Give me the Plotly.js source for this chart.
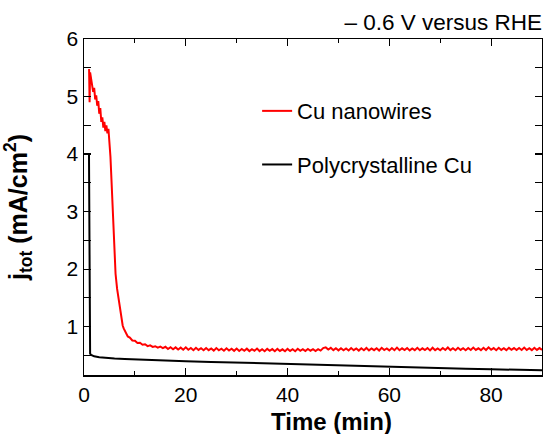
<!DOCTYPE html>
<html>
<head>
<meta charset="utf-8">
<script src="https://cdn.plot.ly/plotly-3.0.1.min.js"></script>
<style>html,body{margin:0;padding:0;background:#fff;}#chart{width:543px;height:434px;}</style>
</head>
<body>
<div id="chart"></div>
<script>
// Cu nanowires (red)
var nanoTime = [1.0,1.1,1.2,1.4,1.6,1.8,2.0,2.2,2.4,2.6,2.8,3.0,3.2,3.4,3.6,3.8,4.0,4.2,4.4,4.6,4.8,5.0,5.2,5.4,5.6,5.8,6.0,6.2,6.5,6.8,7.0,7.2,7.4,7.6,7.8,8.0,8.3,8.6,9.0,9.5,10.0,10.5,11.0,11.5,12.0,12.5,13.0,13.5,14.0,14.5,15.0,15.5,
16.0,16.5,17.0,17.5,18.0,18.5,19.0,19.5,20.0,20.5,21.0,21.5,22.0,22.5,23.0,23.5,24.0,24.5,25.0,25.5,26.0,26.5,27.0,27.5,28.0,28.5,29.0,29.5,
30.0,30.5,31.0,31.5,32.0,32.5,33.0,33.5,34.0,34.5,35.0,35.5,36.0,36.5,37.0,37.5,38.0,38.5,39.0,39.5,40.0,40.5,41.0,41.5,42.0,42.5,43.0,43.5,44.0,44.5,
45.0,45.5,46.0,46.5,47.0,47.5,48.0,48.5,49.0,49.5,50.0,50.5,51.0,51.5,52.0,52.5,53.0,53.5,54.0,54.5,55.0,55.5,56.0,56.5,57.0,57.5,58.0,58.5,59.0,59.5,
60.0,60.5,61.0,61.5,62.0,62.5,63.0,63.5,64.0,64.5,65.0,65.5,66.0,66.5,67.0,67.5,68.0,68.5,69.0,69.5,70.0,70.5,71.0,71.5,72.0,72.5,73.0,73.5,74.0,74.5,
75.0,75.5,76.0,76.5,77.0,77.5,78.0,78.5,79.0,79.5,80.0,80.5,81.0,81.5,82.0,82.5,83.0,83.5,84.0,84.5,85.0,85.5,86.0,86.5,87.0,87.5,88.0,88.5,89.0,89.5,90.0];
var nanoJ = [5.48,4.90,5.42,5.30,5.22,5.08,5.15,4.95,5.02,4.84,4.92,4.70,4.80,4.56,4.64,4.46,4.56,4.40,4.50,4.36,4.44,4.22,3.95,3.55,3.05,2.60,2.22,1.92,1.66,1.46,1.34,1.20,1.08,1.02,0.97,0.93,0.89,0.83,0.81,0.76,0.755,0.715,0.72,0.685,0.695,0.662,0.675,0.648,0.66,0.635,0.652,0.628,
0.650,0.612,0.644,0.608,0.640,0.604,0.636,0.600,0.640,0.598,0.630,0.592,0.634,0.596,0.626,0.590,0.630,0.592,0.622,0.584,0.628,0.590,0.618,0.582,0.624,0.586,0.616,0.580,
0.620,0.578,0.612,0.582,0.618,0.576,0.610,0.580,0.620,0.576,0.608,0.574,0.614,0.580,0.610,0.574,0.614,0.578,0.606,0.572,0.614,0.578,0.608,0.574,0.616,0.580,0.610,0.576,0.612,0.582,
0.608,0.576,0.610,0.584,0.628,0.640,0.602,0.632,0.592,0.624,0.588,0.626,0.590,0.622,0.586,0.628,0.592,0.620,0.584,0.624,0.590,0.630,0.588,0.622,0.592,0.626,0.586,0.632,0.594,0.622,
0.588,0.628,0.592,0.636,0.590,0.624,0.594,0.630,0.588,0.622,0.592,0.632,0.590,0.624,0.594,0.628,0.588,0.634,0.592,0.622,0.590,0.630,0.594,0.638,0.592,0.624,0.590,0.632,0.596,0.626,
0.590,0.630,0.594,0.636,0.596,0.624,0.592,0.632,0.594,0.640,0.598,0.628,0.592,0.634,0.596,0.626,0.592,0.632,0.598,0.628,0.594,0.630,0.596,0.636,0.594,0.626,0.592,0.634,0.596,0.628,0.598];

// Polycrystalline Cu (black)
var polyTime = [0.98,1.05,1.1,1.2,1.4,1.7,2,3,4,5,6,8,10,12,15,20,25,30,35,40,45,50,55,60,65,70,75,80,85,90];
var polyJ = [4.0,1.5,0.6,0.53,0.51,0.495,0.485,0.47,0.46,0.452,0.446,0.438,0.43,0.424,0.415,0.40,0.388,0.375,0.362,0.35,0.338,0.325,0.312,0.30,0.29,0.28,0.27,0.26,0.25,0.242];

var xTicks = [0,20,40,60,80];
var yTicks = [1,2,3,4,5,6];

var traces = [
  {x: nanoTime, y: nanoJ, type:'scatter', mode:'lines', name:'Cu nanowires',
   line:{color:'#ff0000', width:2}, legendgroup:'a'},
  {x: polyTime, y: polyJ, type:'scatter', mode:'lines', name:'Polycrystalline Cu',
   line:{color:'#000000', width:2}, legendgroup:'b'}
];

var FONT = 'Liberation Sans, Arial, sans-serif';
var layout = {
  width:543, height:434,
  margin:{l:84, r:1, t:39, b:59, pad:0},
  paper_bgcolor:'#fff', plot_bgcolor:'#fff',
  font:{family:FONT, color:'#000', size:21},
  showlegend:true,
  title:{text:'\u2013 0.6 V versus RHE', font:{family:FONT, size:22.5, color:'#000'},
         xref:'paper', yref:'container', x:1, xanchor:'right', y:0.949, yanchor:'middle', pad:{r:0,l:0,t:0,b:0}},
  xaxis:{range:[0,90], tickvals:xTicks, ticktext:xTicks.map(String),
    ticks:'inside', ticklen:7, tickwidth:1.2, tickcolor:'#000',
    showline:true, linecolor:'#000', linewidth:1.5, mirror:'allticks',
    showgrid:false, zeroline:false, tickfont:{size:21},
    minor:{dtick:10, ticks:'inside', ticklen:4, tickwidth:1.2, tickcolor:'#000', showgrid:false}},
  yaxis:{range:[0.16,6], tickvals:yTicks, ticktext:yTicks.map(String),
    ticks:'inside', ticklen:7, tickwidth:1.2, tickcolor:'#000',
    showline:true, linecolor:'#000', linewidth:1.5, mirror:'allticks',
    showgrid:false, zeroline:false, tickfont:{size:21},
    minor:{dtick:0.5, ticks:'inside', ticklen:7, tickwidth:1.2, tickcolor:'#000', showgrid:false},
    title:{text:'<b>j<sub>tot</sub> (mA/cm<sup>2</sup>)</b>', font:{size:25}, standoff:32}},
  annotations:[{text:'<b>Time (min)</b>', xref:'paper', yref:'paper', x:0.541, y:-0.137,
    xanchor:'center', yanchor:'middle', showarrow:false, font:{family:FONT, size:24, color:'#000'}}],
  legend:{x:0.378, y:0.848, xanchor:'left', yanchor:'top', bgcolor:'rgba(0,0,0,0)',
    font:{size:22, color:'#000'}, traceorder:'grouped', tracegroupgap:22, itemwidth:30}
};

Plotly.newPlot('chart', traces, layout, {staticPlot:true, displayModeBar:false});
</script>
</body>
</html>
